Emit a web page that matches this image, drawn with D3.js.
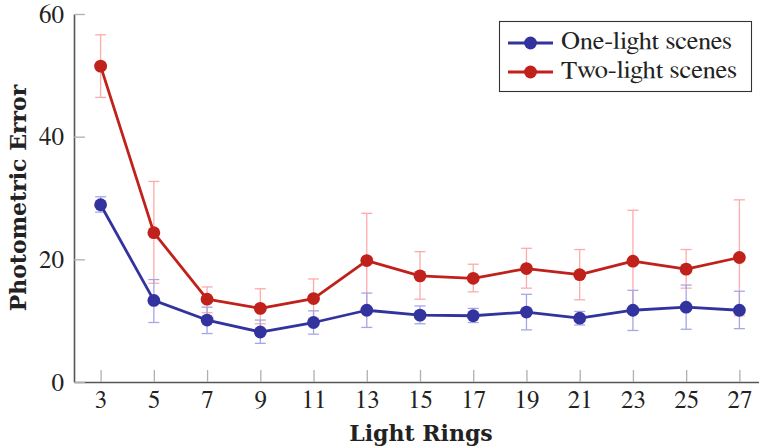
<!DOCTYPE html>
<html>
<head>
<meta charset="utf-8">
<script src="https://cdn.jsdelivr.net/npm/d3@7"></script>
<style>
  html, body { margin: 0; padding: 0; background: #fff; }
  svg { display: block; }
  .rm { font-family: 'FreeSerif', 'Nimbus Roman', 'Tinos'; }
  .bf { font-family: 'DejaVu Serif'; font-weight: bold; }
</style>
</head>
<body>
<svg id="chart" width="759" height="447"></svg>
<script>
// ---- data ----
const lightRings = [3, 5, 7, 9, 11, 13, 15, 17, 19, 21, 23, 25, 27];
const oneLight     = [28.9, 13.3, 10.1, 8.15, 9.7, 11.7, 10.9, 10.8, 11.4, 10.4, 11.7, 12.2, 11.7];
const oneLightHigh = [30.2, 16.7, 12.2, 10.1, 11.6, 14.5, 12.4, 12.0, 14.3, 11.5, 14.95, 15.8, 14.8];
const oneLightLow  = [27.7, 9.7, 7.9, 6.3, 7.8, 8.9, 9.5, 9.7, 8.5, 9.3, 8.4, 8.6, 8.7];
const twoLight     = [51.5, 24.35, 13.5, 12.0, 13.6, 19.8, 17.3, 16.9, 18.5, 17.5, 19.7, 18.4, 20.3];
const twoLightHigh = [56.6, 32.7, 15.5, 15.2, 16.8, 27.5, 21.25, 19.2, 21.8, 21.6, 28.0, 21.6, 29.7];
const twoLightLow  = [46.4, 16.1, 11.3, 9.5, 10.4, 12.0, 13.5, 14.7, 15.3, 13.4, 11.8, 15.3, 10.8];
const yTicks = [0, 20, 40, 60];
const seriesNames = ["One-light scenes", "Two-light scenes"];
const xTitle = "Light Rings";
const yTitle = "Photometric Error";

const colors = { one: "#33339f", two: "#c0211b", oneErr: "#a6a6e6", twoErr: "#ffaaaa" };

const svg = d3.select("#chart");
const x = d3.scaleLinear().domain([2, 28]).range([74, 766]);
const y = d3.scaleLinear().domain([0, 60]).range([382, 14]);

// axes
const xAxis = svg.append("g").attr("transform", `translate(0,${y(0)})`)
  .call(d3.axisBottom(x).tickValues(lightRings).tickSize(-12).tickSizeOuter(0).tickPadding(8));
const yAxis = svg.append("g").attr("transform", `translate(${x(2)},0)`)
  .call(d3.axisLeft(y).tickValues(yTicks).tickSize(-11).tickSizeOuter(0).tickPadding(10));
[xAxis, yAxis].forEach(g => {
  g.attr("font-family", null).attr("font-size", 25);
  g.select(".domain").attr("stroke", "#555").attr("stroke-width", 1.6);
  g.selectAll(".tick line").attr("stroke", "#b0b0b0").attr("stroke-width", 1.3);
  g.selectAll(".tick text").attr("class", "rm").attr("font-size", 25).attr("fill", "#222");
});
xAxis.selectAll(".tick text").attr("dy", "0.71em");
yAxis.selectAll(".tick text").attr("dy", "0.33em");

// axis titles
svg.append("text").attr("class", "bf").attr("x", 421).attr("y", 441).attr("text-anchor", "middle")
  .attr("font-size", 22).attr("fill", "#222").text(xTitle);
svg.append("text").attr("class", "bf").attr("transform", "translate(26,198) rotate(-90)").attr("text-anchor", "middle")
  .attr("font-size", 22).attr("fill", "#222").text(yTitle);

// error bars
function errorBars(lo, hi, color) {
  const g = svg.append("g").attr("stroke", color).attr("stroke-width", 1.3).attr("fill", "none");
  lightRings.forEach((r, i) => {
    const cx = x(r);
    g.append("line").attr("x1", cx).attr("x2", cx).attr("y1", y(lo[i])).attr("y2", y(hi[i]));
    g.append("line").attr("x1", cx - 5.5).attr("x2", cx + 5.5).attr("y1", y(lo[i])).attr("y2", y(lo[i]));
    g.append("line").attr("x1", cx - 5.5).attr("x2", cx + 5.5).attr("y1", y(hi[i])).attr("y2", y(hi[i]));
  });
}
errorBars(twoLightLow, twoLightHigh, colors.twoErr);
errorBars(oneLightLow, oneLightHigh, colors.oneErr);

// series
function series(vals, color) {
  const pts = lightRings.map((r, i) => [r, vals[i]]);
  svg.append("path").datum(pts)
    .attr("d", d3.line().x(d => x(d[0])).y(d => y(d[1])))
    .attr("fill", "none").attr("stroke", color).attr("stroke-width", 2.8).attr("stroke-linejoin", "round");
  svg.append("g").selectAll("circle").data(pts).join("circle")
    .attr("cx", d => x(d[0])).attr("cy", d => y(d[1])).attr("r", 6.4).attr("fill", color);
}
series(twoLight, colors.two);
series(oneLight, colors.one);

// legend
const lg = svg.append("g");
lg.append("rect").attr("x", 499.5).attr("y", 21.5).attr("width", 252).attr("height", 70)
  .attr("fill", "#fff").attr("stroke", "#333").attr("stroke-width", 1.1);
[[seriesNames[0], colors.one, 43, 171], [seriesNames[1], colors.two, 72, 176]].forEach(([name, c, cy, w]) => {
  lg.append("line").attr("x1", 508).attr("x2", 553).attr("y1", cy).attr("y2", cy)
    .attr("stroke", c).attr("stroke-width", 2.8);
  lg.append("circle").attr("cx", 530.5).attr("cy", cy).attr("r", 6.4).attr("fill", c);
  lg.append("text").attr("class", "rm").attr("x", 561).attr("y", cy + 6).attr("font-size", 24).attr("fill", "#222")
    .attr("textLength", w).attr("lengthAdjust", "spacingAndGlyphs").text(name);
});
</script>
</body>
</html>
